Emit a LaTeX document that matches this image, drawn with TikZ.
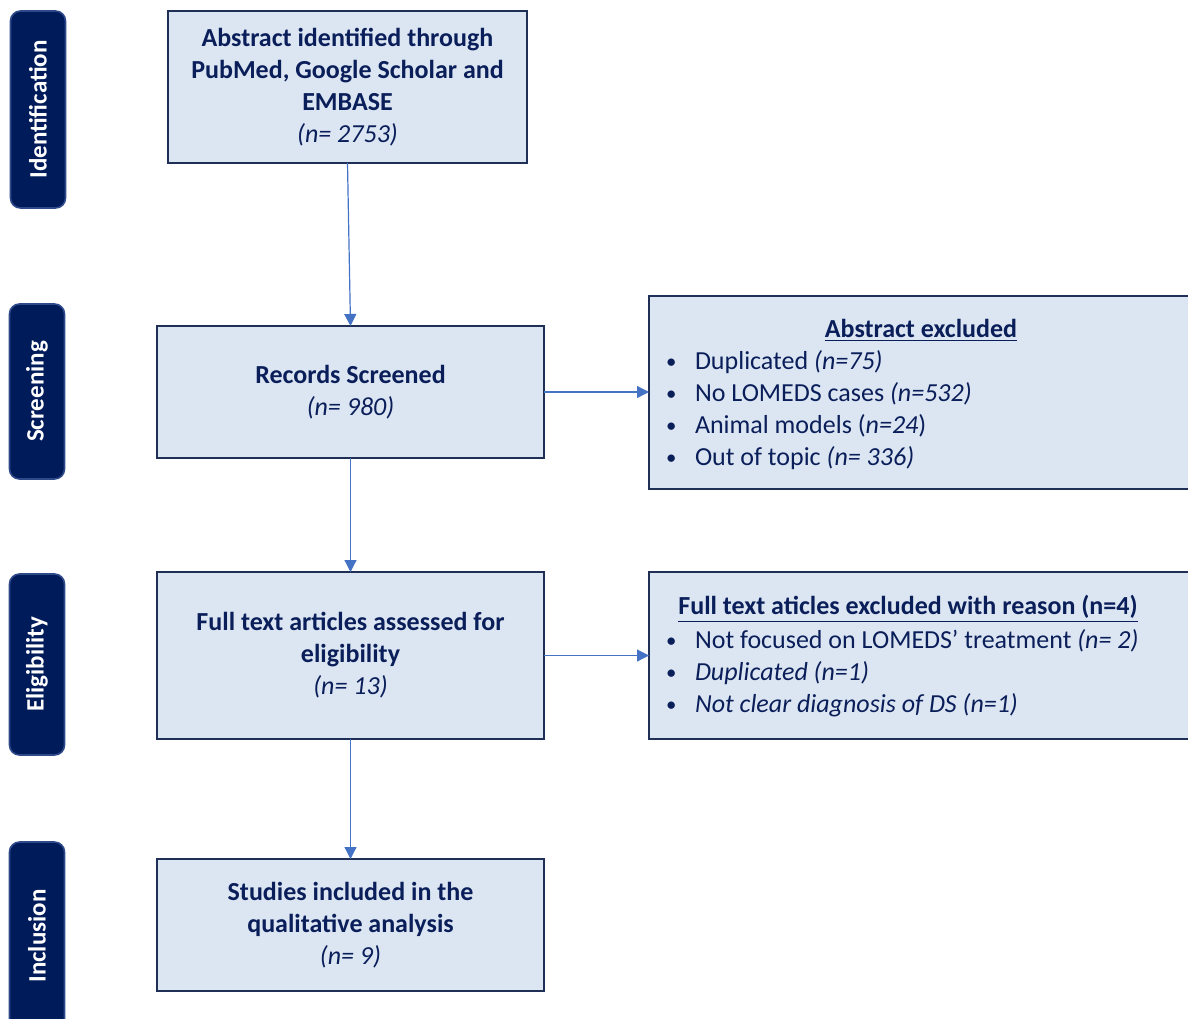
\documentclass[tikz,border=0pt]{standalone}
\usepackage{fontspec}
\setmainfont{Carlito}
\usetikzlibrary{arrows.meta}

\definecolor{stagefill}{HTML}{001B5A}
\definecolor{stageline}{HTML}{2E4A8A}
\definecolor{boxfill}{HTML}{DCE6F2}
\definecolor{boxline}{HTML}{1F2F55}
\definecolor{textnavy}{HTML}{0A1E5A}
\definecolor{flowline}{HTML}{4472C4}

\newcommand{\excbullet}{\makebox[15.5pt][l]{\hspace{1pt}\raisebox{0.5pt}{\scalebox{0.8}{\textbullet}}}}

\begin{document}
\begin{tikzpicture}[x=0.5pt, y=-0.5pt, inner sep=0pt, outer sep=0pt,
  stage/.style={draw=stageline, line width=0.8pt, fill=stagefill, rounded corners=5pt, rotate=90,
    minimum height=27.5pt, text=white, font=\bfseries\fontsize{12.5}{14}\selectfont},
  flowbox/.style={draw=boxline, line width=1.2pt, fill=boxfill, text=textnavy, align=center,
    font=\fontsize{13}{16}\selectfont},
  exctext/.style={text=textnavy, align=left, font=\fontsize{13}{16}\selectfont},
  link/.style={draw=flowline, line width=0.6pt, -{Triangle[length=6pt,width=6pt]}}]
\useasboundingbox (0,0) rectangle (1188,1018);

\node[stage, minimum width=98.5pt] (identif) at (38,109.5) {Identification};
\node[stage, minimum width=87.5pt] (screen) at (37,391.5) {Screening};
\node[stage, minimum width=90.5pt] (elig) at (37,664.5) {Eligibility};
\node[stage, minimum width=94pt] (incl) at (37,936) {Inclusion};

\node[flowbox, minimum width=179.5pt, minimum height=76pt] (idbox) at (347.5,87)
  {\textbf{Abstract identified through}\\\textbf{PubMed, Google Scholar and}\\\textbf{EMBASE}\\\textit{(n= 2753)}};
\node[flowbox, minimum width=193.5pt, minimum height=66pt] (scrbox) at (350.5,392)
  {\textbf{Records Screened}\\\textit{(n= 980)}};
\node[flowbox, minimum width=193.5pt, minimum height=83.5pt] (eligbox) at (350.5,655.5)
  {\textbf{Full text articles assessed for}\\\textbf{eligibility}\\\textit{(n= 13)}};
\node[flowbox, minimum width=193.5pt, minimum height=66pt] (inclbox) at (350.5,925)
  {\textbf{Studies included in the}\\\textbf{qualitative analysis}\\\textit{(n= 9)}};

\node[flowbox, minimum width=270.5pt, minimum height=96.5pt] (absexcl) at (919.5,392.5) {};
\node[exctext] (absexcltitle) at (921,330) {\textbf{\underline{Abstract excluded}}};
\node[exctext, anchor=west] (absexcllist) at (664,410)
  {\excbullet Duplicated \textit{(n=75)}\\
   \excbullet No LOMEDS cases \textit{(n=532)}\\
   \excbullet Animal models (\textit{n=24})\\
   \excbullet Out of topic \textit{(n= 336)}};

\node[flowbox, minimum width=270.5pt, minimum height=83.5pt] (ftexcl) at (919.5,655.5) {};
\node[exctext] (ftexcltitle) at (908,609) {\textbf{\underline{Full text aticles excluded with reason (n=4)}}};
\node[exctext, anchor=west] (ftexcllist) at (664,673)
  {\excbullet Not focused on LOMEDS’ treatment \textit{(n= 2)}\\
   \excbullet\textit{Duplicated (n=1)}\\
   \excbullet\textit{Not clear diagnosis of DS (n=1)}};

\draw[link] (idbox.south) -- (scrbox.north);
\draw[link] (scrbox.south) -- (eligbox.north);
\draw[link] (eligbox.south) -- (inclbox.north);
\draw[link] (scrbox.east) -- (absexcl.west |- scrbox.east);
\draw[link] (eligbox.east) -- (ftexcl.west);

\end{tikzpicture}
\end{document}
